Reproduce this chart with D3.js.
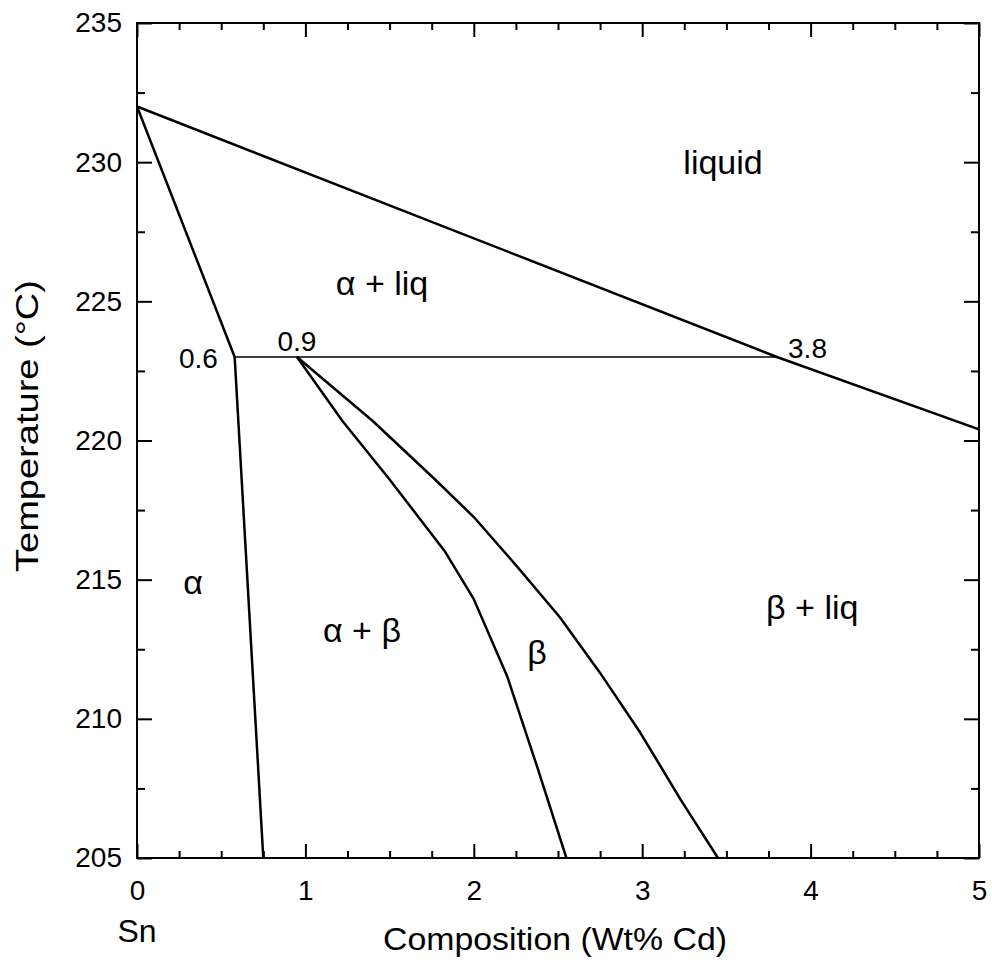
<!DOCTYPE html>
<html>
<head>
<meta charset="utf-8">
<script src="https://cdn.jsdelivr.net/npm/d3@7"></script>
<style>
  body { margin: 0; background: #fff; }
  svg text { font-family: "Liberation Sans", Arial, Helvetica, sans-serif; fill: #000; }
</style>
</head>
<body>
<div id="chart"></div>
<script>
// Sn-Cd phase diagram (Sn-rich side)

// boundary lines: composition (wt% Cd) and temperature (°C)
const liquidusX = [0, 3.8, 5];
const liquidusT = [232, 223, 220.4];
const alphaLiqX = [0, 0.58];
const alphaLiqT = [232, 223];
const alphaSolvusX = [0.58, 0.75];
const alphaSolvusT = [223, 205];
const eutecticX = [0.58, 3.8];
const eutecticT = [223, 223];
const betaSolvusX = [0.95, 1.22, 1.50, 1.83, 2.0, 2.2, 2.375, 2.55];
const betaSolvusT = [223, 220.7, 218.6, 216.0, 214.3, 211.5, 208.3, 205];
const betaSolidusX = [0.95, 1.40, 1.77, 2.0, 2.26, 2.51, 2.75, 2.99, 3.23, 3.45];
const betaSolidusT = [223, 220.7, 218.6, 217.25, 215.45, 213.66, 211.65, 209.49, 207.08, 205];

// axis ticks
const xTicks = [0, 1, 2, 3, 4, 5];
const yTicks = [205, 210, 215, 220, 225, 230, 235];

// region labels and point labels (data coordinates)
const phaseLabels = [
  { text: 'liquid', x: 3.48, t: 230.0 },
  { text: 'α + liq', x: 1.455, t: 225.66 },
  { text: 'α', x: 0.333, t: 214.9 },
  { text: 'α + β', x: 1.336, t: 213.2 },
  { text: 'β', x: 2.375, t: 212.4 },
  { text: 'β + liq', x: 4.01, t: 214.0 }
];
const pointLabels = [
  { text: '0.6', x: 0.48, t: 222.6, anchor: 'end' },
  { text: '0.9', x: 0.95, t: 223.2, anchor: 'middle' },
  { text: '3.8', x: 3.866, t: 222.96, anchor: 'start' }
];

const width = 992, height = 969;
const margin = { top: 23, right: 13, bottom: 111, left: 137 };

const svg = d3.select('#chart')
  .append('svg')
  .attr('width', width)
  .attr('height', height);

const x = d3.scaleLinear()
  .domain([0, 5])
  .range([margin.left, width - margin.right]);
const y = d3.scaleLinear()
  .domain([205, 235])
  .range([height - margin.bottom, margin.top]);

const minorX = d3.range(0, 5.001, 0.25).filter(v => Math.abs(v - Math.round(v)) > 1e-6);
const minorY = d3.range(205, 235.001, 2.5).filter(v => v % 5 !== 0);

// ticks (all pointing inward)
function tickAxis(axisFn, scale, values, size, transform, labels, pad) {
  const g = svg.append('g')
    .attr('transform', transform)
    .call(axisFn(scale).tickValues(values).tickSizeInner(-size).tickSizeOuter(0)
      .tickPadding(pad || 0)
      .tickFormat(labels ? d3.format('d') : ''));
  g.select('.domain').remove();
  g.selectAll('.tick line').attr('stroke', '#000').attr('stroke-width', 2);
  g.selectAll('.tick text').style('font-size', '28px');
  return g;
}

const bottomY = height - margin.bottom;
const rightX = width - margin.right;

tickAxis(d3.axisBottom, x, xTicks, 14, `translate(0,${bottomY})`, true, 22);
tickAxis(d3.axisBottom, x, minorX, 7, `translate(0,${bottomY})`, false);
tickAxis(d3.axisTop, x, xTicks, 14, `translate(0,${margin.top})`, false);
tickAxis(d3.axisTop, x, minorX, 7, `translate(0,${margin.top})`, false);
tickAxis(d3.axisLeft, y, yTicks, 15, `translate(${margin.left},0)`, true, 15);
tickAxis(d3.axisLeft, y, minorY, 8, `translate(${margin.left},0)`, false);
tickAxis(d3.axisRight, y, yTicks, 15, `translate(${rightX},0)`, false);
tickAxis(d3.axisRight, y, minorY, 8, `translate(${rightX},0)`, false);

// frame
svg.append('rect')
  .attr('x', margin.left)
  .attr('y', margin.top)
  .attr('width', rightX - margin.left)
  .attr('height', bottomY - margin.top)
  .attr('fill', 'none')
  .attr('stroke', '#000')
  .attr('stroke-width', 2);

// phase boundaries
const line = d3.line().x(d => x(d[0])).y(d => y(d[1]));
function boundary(xs, ts, w) {
  svg.append('path')
    .datum(d3.zip(xs, ts))
    .attr('d', line)
    .attr('fill', 'none')
    .attr('stroke', '#000')
    .attr('stroke-width', w)
    .attr('stroke-linejoin', 'round');
}
boundary(liquidusX, liquidusT, 2.5);
boundary(alphaLiqX, alphaLiqT, 2.5);
boundary(alphaSolvusX, alphaSolvusT, 2.5);
boundary(eutecticX, eutecticT, 1.6);
boundary(betaSolvusX, betaSolvusT, 2.5);
boundary(betaSolidusX, betaSolidusT, 2.5);

// labels
svg.append('g')
  .selectAll('text')
  .data(phaseLabels)
  .join('text')
  .attr('x', d => x(d.x))
  .attr('y', d => y(d.t))
  .attr('dy', '0.35em')
  .attr('text-anchor', 'middle')
  .style('font-size', '34px')
  .text(d => d.text);

svg.append('g')
  .selectAll('text')
  .data(pointLabels)
  .join('text')
  .attr('x', d => x(d.x))
  .attr('y', d => y(d.t))
  .attr('text-anchor', d => d.anchor)
  .style('font-size', '28px')
  .text(d => d.text);

// axis titles
svg.append('text')
  .attr('x', x(0))
  .attr('y', 942)
  .attr('text-anchor', 'middle')
  .style('font-size', '32px')
  .text('Sn');

svg.append('text')
  .attr('x', 555)
  .attr('y', 950)
  .attr('text-anchor', 'middle')
  .style('font-size', '31px')
  .attr('textLength', 344)
  .attr('lengthAdjust', 'spacingAndGlyphs')
  .text('Composition (Wt% Cd)');

svg.append('text')
  .attr('transform', 'translate(38,426) rotate(-90)')
  .attr('text-anchor', 'middle')
  .style('font-size', '31px')
  .attr('textLength', 292)
  .attr('lengthAdjust', 'spacingAndGlyphs')
  .text('Temperature (°C)');
</script>
</body>
</html>
